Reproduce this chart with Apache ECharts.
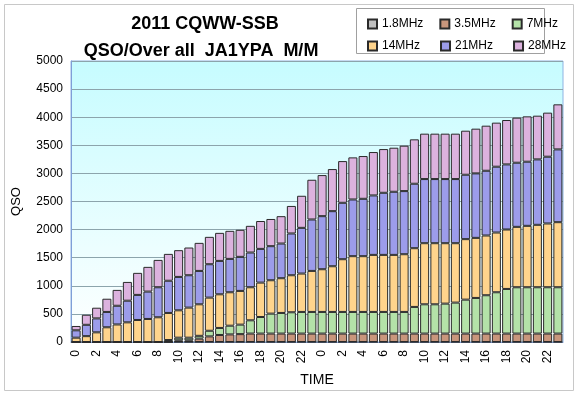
<!DOCTYPE html>
<html>
<head>
<meta charset="utf-8">
<script src="https://cdn.jsdelivr.net/npm/echarts@6/dist/echarts.min.js"></script>
<style>
html,body{margin:0;padding:0;background:#fff;}
#c{width:578px;height:396px;}
</style>
</head>
<body>
<div id="c"></div>
<script>
var hours = ['0','1','2','3','4','5','6','7','8','9','10','11','12','13','14','15','16','17','18','19','20','21','22','23',
             '0','1','2','3','4','5','6','7','8','9','10','11','12','13','14','15','16','17','18','19','20','21','22','23'];
var seriesNames = ['1.8MHz','3.5MHz','7MHz','14MHz','21MHz','28MHz'];
var yTicks = [0,500,1000,1500,2000,2500,3000,3500,4000,4500,5000];

var mhz1_8 = [0,0,0,0,0,0,0,0,0,0,0,0,0,0,0,0,0,0,0,0,0,0,0,0,
              0,0,0,0,0,0,0,0,0,0,0,0,0,0,0,0,0,0,0,0,0,0,0,0];
var mhz3_5 = [0,0,0,0,0,0,0,0,0,0,30,30,60,100,125,135,140,150,150,150,150,150,150,150,
              150,150,150,150,150,150,150,150,150,150,150,150,150,150,150,150,150,150,150,150,150,150,150,150];
var mhz7   = [0,0,0,0,0,0,0,0,0,35,47,47,50,100,125,155,169,236,295,355,367,379,385,385,
              385,385,385,385,385,385,385,385,385,474,521,521,533,551,604,634,682,735,794,824,824,824,824,824];
var mhz14  = [77,104,172,262,312,350,392,410,440,482,487,535,561,590,599,595,600,588,612,594,618,659,683,730,
              760,813,938,992,992,1015,1015,1015,1027,1045,1087,1087,1075,1057,1076,1069,1063,1063,1058,1075,1093,1111,1135,1158];
var mhz21  = [131,202,248,273,333,385,446,487,534,573,594,576,594,594,594,594,606,618,600,606,617,743,813,915,
              944,980,1004,1009,1021,1058,1105,1123,1123,1147,1141,1141,1141,1141,1146,1147,1152,1171,1158,1141,1141,1164,1188,1295];
var mhz28  = [77,179,190,235,282,334,392,440,487,478,476,493,499,487,499,499,481,475,496,484,487,490,571,707,
              731,749,742,749,761,772,778,784,808,790,808,808,808,808,784,796,802,784,790,802,807,778,784,802];

var values = [mhz1_8, mhz3_5, mhz7, mhz14, mhz21, mhz28];
var colors = ['#C0C0C0','#C9967C','#B4E2A8','#FFD48C','#9C9CEA','#DCB2DE'];

var chart = echarts.init(document.getElementById('c'), null, {renderer:'canvas'});

var series = seriesNames.map(function(n, i){
  return {
    name: n, type: 'bar', stack: 'all', data: values[i],
    barCategoryGap: '12%',
    itemStyle: {color: colors[i], borderColor: '#2a2a2a', borderWidth: 1},
    emphasis: {disabled: true}
  };
});

var legendText = {fontFamily:'Liberation Sans', fontSize:12, color:'#000'};
chart.setOption({
  animation: false,
  aria: {enabled: false},
  backgroundColor: '#fff',
  textStyle: {fontFamily: 'Liberation Sans'},
  title: [
    {text: '2011 CQWW-SSB', left: 200, top: 10, textAlign: 'center',
     textStyle: {fontFamily:'Liberation Sans', fontWeight:'bold', fontSize:18, color:'#000'}},
    {text: 'QSO/Over all  JA1YPA  M/M', left: 196, top: 37, textAlign: 'center',
     textStyle: {fontFamily:'Liberation Sans', fontWeight:'bold', fontSize:18, color:'#000'}}
  ],
  legend: [
    {data: seriesNames.slice(0,3), left: 362, top: 13, itemWidth: 9, itemHeight: 9, itemGap: 16, icon: 'rect',
     textStyle: legendText, selectedMode: false},
    {data: seriesNames.slice(3,6), left: 362, top: 35, itemWidth: 9, itemHeight: 9, itemGap: 20, icon: 'rect',
     textStyle: legendText, selectedMode: false}
  ],
  graphic: [
    {type:'rect', shape:{x:4.5, y:4.5, width:569, height:386}, style:{fill:'none', stroke:'#C8C8C8', lineWidth:1}, silent:true, z:-1},
    {type:'rect', shape:{x:356.5, y:8.5, width:188, height:45}, style:{fill:'#fff', stroke:'#A0A0A0', lineWidth:1}, silent:true, z:-1}
  ],
  grid: {left: 71, right: 15, top: 61, bottom: 54, show: true,
    borderColor: '#8EB4E3', borderWidth: 1,
    backgroundColor: {type:'linear', x:0, y:0, x2:0, y2:1,
      colorStops:[{offset:0, color:'#C6FCFF'},{offset:1, color:'#FFFFFF'}]}},
  xAxis: {
    type: 'category', data: hours,
    name: 'TIME', nameLocation: 'middle', nameGap: 31,
    nameTextStyle: {fontFamily:'Liberation Sans', fontSize:14, color:'#000'},
    axisLine: {lineStyle: {color:'#7F9FD8', width:1}},
    axisTick: {show: false},
    axisLabel: {interval: 1, rotate: 90, fontSize: 12, color:'#000', margin: 8}
  },
  yAxis: {
    type: 'value', min: yTicks[0], max: yTicks[yTicks.length-1], interval: 500,
    name: 'QSO', nameLocation: 'middle', nameGap: 48,
    nameTextStyle: {fontFamily:'Liberation Sans', fontSize:13, color:'#000'},
    axisLine: {show: true, lineStyle: {color:'#7F9FD8', width:1}},
    axisTick: {show: false},
    axisLabel: {fontSize: 12, color:'#000', margin: 8, formatter: function(v){ return String(v); }},
    splitLine: {lineStyle: {color:'#8CA4AC', width:1}}
  },
  series: series
});
</script>
</body>
</html>
